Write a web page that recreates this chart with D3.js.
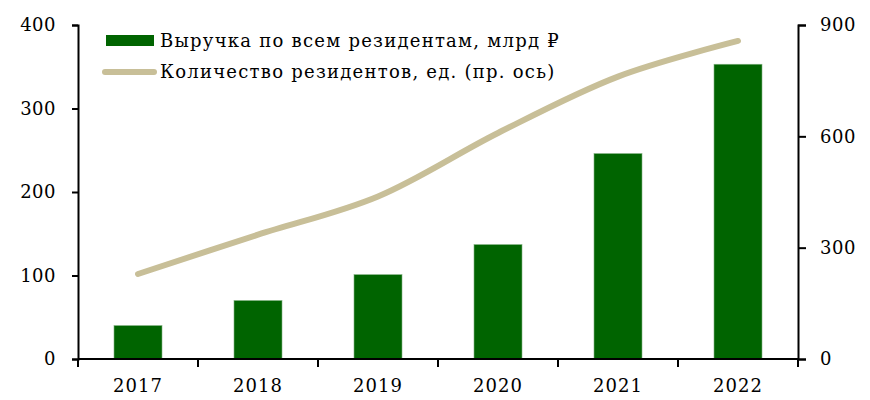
<!DOCTYPE html>
<html>
<head>
<meta charset="utf-8">
<script src="https://cdn.jsdelivr.net/npm/d3@7"></script>
<style>
  body { margin: 0; background: #fff; }
  text { font-family: "DejaVu Serif", "Liberation Serif", serif; }
</style>
</head>
<body>
<div id="chart"></div>
<script>
// Data
const years = ['2017', '2018', '2019', '2020', '2021', '2022'];
const revenue = [40, 70, 101, 137, 246, 353];      // млрд ₽, left axis
const residents = [229, 335, 438, 609, 761, 857];  // ед., right axis
const leftTicks = [0, 100, 200, 300, 400];
const rightTicks = [0, 300, 600, 900];
const seriesNames = ['Выручка по всем резидентам, млрд ₽', 'Количество резидентов, ед. (пр. ось)'];

const width = 870;
const height = 400;
const margin = { top: 25, right: 72, bottom: 41, left: 78 };

const svg = d3.select('#chart')
    .append('svg')
    .attr('width', width)
    .attr('height', height);

const x = d3.scaleBand()
    .domain(years)
    .range([margin.left, width - margin.right])
    .paddingInner(0.6)
    .paddingOuter(0.3);

const yLeft = d3.scaleLinear()
    .domain([0, 400])
    .range([height - margin.bottom, margin.top]);

const yRight = d3.scaleLinear()
    .domain([0, 900])
    .range([height - margin.bottom, margin.top]);

// Bars
svg.append('g')
    .selectAll('rect')
    .data(revenue)
    .enter()
    .append('rect')
    .attr('x', (d, i) => x(years[i]))
    .attr('y', d => yLeft(d))
    .attr('width', x.bandwidth())
    .attr('height', d => yLeft(0) - yLeft(d))
    .attr('fill', '#006400')
    .attr('stroke', '#7fb07f')
    .attr('stroke-width', 0.6);

// Line
const line = d3.line()
    .x((d, i) => x(years[i]) + x.bandwidth() / 2)
    .y(d => yRight(d))
    .curve(d3.curveCatmullRom.alpha(0.5));

svg.append('path')
    .datum(residents)
    .attr('d', line)
    .attr('fill', 'none')
    .attr('stroke', '#c8bf98')
    .attr('stroke-width', 6)
    .attr('stroke-linecap', 'round');

// Axes
const fontSize = '18px';

const leftAxis = svg.append('g')
    .attr('transform', `translate(${margin.left},0)`)
    .call(d3.axisLeft(yLeft).tickValues(leftTicks).tickSize(6).tickPadding(16));

const rightAxis = svg.append('g')
    .attr('transform', `translate(${width - margin.right},0)`)
    .call(d3.axisRight(yRight).tickValues(rightTicks).tickSize(8).tickPadding(14));

// category axis: ticks on band boundaries
const xAxis = svg.append('g')
    .attr('transform', `translate(0,${height - margin.bottom})`);

const bounds = d3.range(years.length + 1).map(i => margin.left + i * (width - margin.left - margin.right) / years.length);

xAxis.append('line')
    .attr('x1', margin.left)
    .attr('x2', width - margin.right)
    .attr('stroke', '#000')
    .attr('stroke-width', 2);

xAxis.selectAll('.bt')
    .data(bounds)
    .enter()
    .append('line')
    .attr('class', 'bt')
    .attr('x1', d => d)
    .attr('x2', d => d)
    .attr('y1', 0)
    .attr('y2', 8)
    .attr('stroke', '#000')
    .attr('stroke-width', 2);

xAxis.selectAll('.lbl')
    .data(years)
    .enter()
    .append('text')
    .attr('class', 'lbl')
    .attr('x', d => x(d) + x.bandwidth() / 2)
    .attr('y', 33)
    .attr('text-anchor', 'middle')
    .attr('font-size', fontSize)
    .attr('letter-spacing', '1px')
    .attr('fill', '#000')
    .text(d => d);

[leftAxis, rightAxis].forEach(a => {
    a.select('.domain').attr('stroke', '#000').attr('stroke-width', 2);
    a.selectAll('.tick line').attr('stroke', '#000').attr('stroke-width', 2);
    a.selectAll('.tick text').attr('font-size', fontSize).attr('fill', '#000')
        .attr('letter-spacing', '0.5px')
        .style('font-family', '"DejaVu Serif", serif');
});

// Legend
const legend = svg.append('g');

legend.append('rect')
    .attr('x', 106)
    .attr('y', 35)
    .attr('width', 48)
    .attr('height', 11)
    .attr('fill', '#006400');

legend.append('line')
    .attr('x1', 105)
    .attr('x2', 154)
    .attr('y1', 72)
    .attr('y2', 72)
    .attr('stroke', '#c8bf98')
    .attr('stroke-width', 6)
    .attr('stroke-linecap', 'round');

legend.selectAll('.lt')
    .data(seriesNames)
    .enter()
    .append('text')
    .attr('class', 'lt')
    .attr('x', 160)
    .attr('y', (d, i) => 47 + i * 31)
    .attr('font-size', fontSize)
    .attr('letter-spacing', '1.25px')
    .attr('fill', '#000')
    .text(d => d);
</script>
</body>
</html>
